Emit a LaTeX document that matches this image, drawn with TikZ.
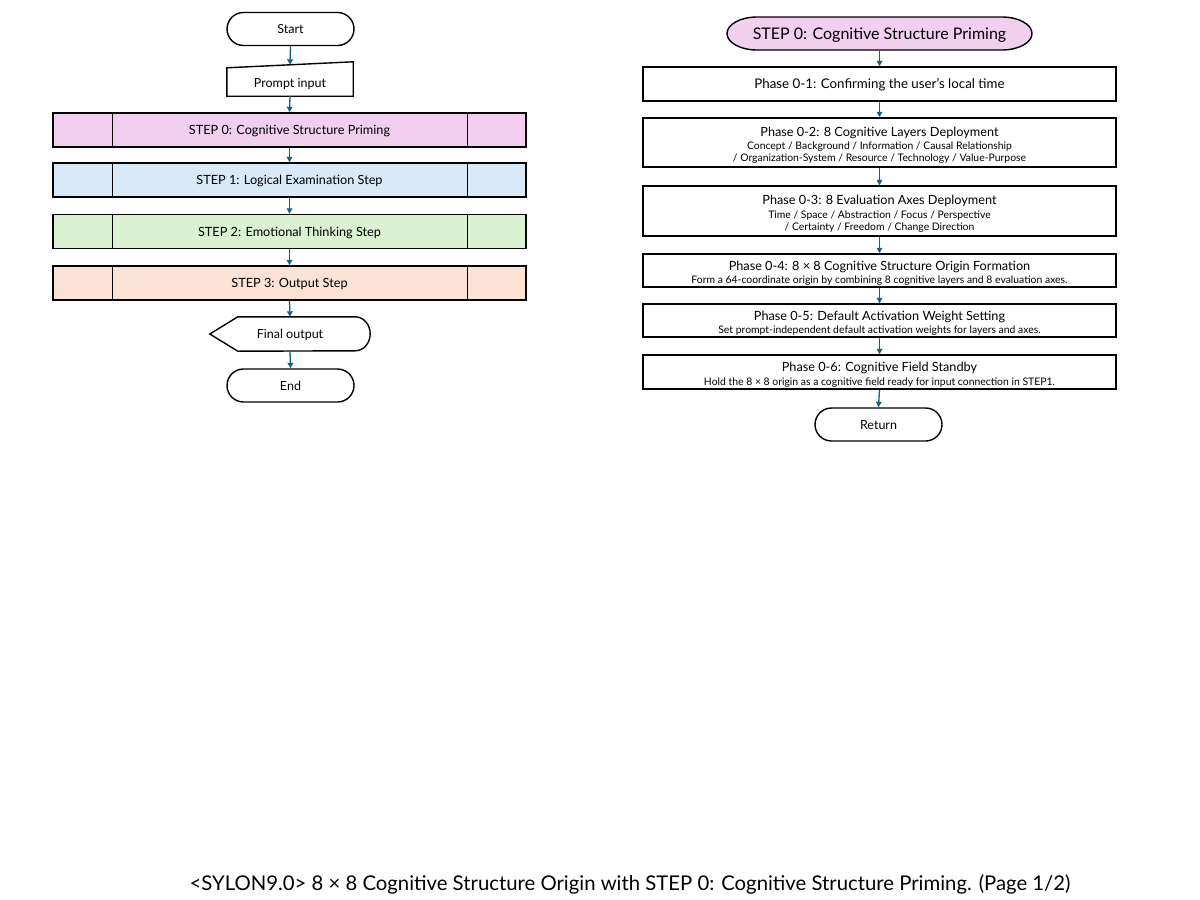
\documentclass[tikz,border=0pt]{standalone}
\usepackage{fontspec}
\setmainfont{Lato}
\usetikzlibrary{arrows.meta,calc}
\definecolor{pinkf}{HTML}{F2CEEF}
\definecolor{bluef}{HTML}{DAE9F8}
\definecolor{greenf}{HTML}{DAF2D0}
\definecolor{peachf}{HTML}{FBE2D5}
\definecolor{arrowc}{HTML}{156082}
\newcommand\phsub{\fontsize{10.4}{12}\selectfont}
\newcommand\phtitle{\fontsize{12.7}{15}\selectfont}
\newcommand\ptext[1]{\raisebox{-3.5pt}[\height][\depth]{\begin{tabular}{@{}c@{}}#1\end{tabular}}}
\begin{document}
\begin{tikzpicture}[x=1pt,y=-1pt,
  lw/.style={line width=1.4pt},
  stepbox/.style={draw=black,lw,minimum width=473pt,minimum height=34pt,inner sep=0pt,
    font=\fontsize{12.7}{14}\selectfont,text height=9.1pt,text depth=0pt},
  phbox/.style={draw=black,lw,minimum width=473pt,inner sep=0pt,font=\phtitle},
  term/.style={draw=black,lw,rounded corners=16.5pt,minimum width=127pt,minimum height=33pt,inner sep=0pt,
    font=\fontsize{12.5}{14}\selectfont,text height=9pt,text depth=0pt},
  plain/.style={minimum height=34pt,inner sep=0pt,font=\fontsize{12.5}{14}\selectfont,text height=9pt,text depth=0pt},
  arr/.style={draw=arrowc,line width=1.3pt,-{Triangle[length=5.5pt,width=5.5pt]}},
]
\useasboundingbox (0,0) rectangle (1200,900);
\fill[white] (0,0) rectangle (1200,900);

% ---------- left column ----------
\node[term] (start) at (290.5,29) {Start};

\node[plain,minimum width=126pt] (pin) at (290,79) {\raisebox{-3.5pt}{Prompt input}};
\draw[lw,line join=miter] ($(pin.north west)+(0,6)$) -- (pin.north east) -- (pin.south east) -- (pin.south west) -- cycle;

\node[stepbox,fill=pinkf] (s0) at (289.5,130) {STEP 0: Cognitive Structure Priming};
\node[stepbox,fill=bluef] (s1) at (289.5,180) {STEP 1: Logical Examination Step};
\node[stepbox,fill=greenf] (s2) at (289.5,231.5) {STEP 2: Emotional Thinking Step};
\node[stepbox,fill=peachf] (s3) at (289.5,283) {STEP 3: Output Step};
\foreach \s in {s0,s1,s2,s3}{
  \draw[lw] ([xshift=60pt]\s.north west) -- ([xshift=60pt]\s.south west);
  \draw[lw] ([xshift=-59pt]\s.north east) -- ([xshift=-59pt]\s.south east);
}

\node[plain,minimum width=160pt] (fo) at (290,334) {Final output};
\draw[lw,line join=miter] (fo.west) -- ([xshift=28pt]fo.north west) -- ([xshift=-15pt]fo.north east)
  arc[start angle=90,end angle=-90,x radius=15pt,y radius=17pt] -- ([xshift=28pt]fo.south west) -- cycle;

\node[term] (end) at (290.5,385.5) {End};

\draw[arr] (start.south) -- ($(pin.north)+(0,3)$);
\draw[arr] (pin.south) -- (s0.north);
\draw[arr] (s0.south) -- (s1.north);
\draw[arr] (s1.south) -- (s2.north);
\draw[arr] (s2.south) -- (s3.north);
\draw[arr] (s3.south) -- (fo.north);
\draw[arr] (fo.south) -- (end.north);

% ---------- right column ----------
\draw[lw,fill=pinkf] (757,17) -- (1002,17)
  arc[start angle=90,end angle=-90,x radius=30pt,y radius=16.5pt] -- (757,50)
  arc[start angle=270,end angle=90,x radius=30pt,y radius=16.5pt] -- cycle;
\node[minimum width=305pt,minimum height=33pt,inner sep=0pt,font=\fontsize{16}{18}\selectfont,
  text height=11.5pt,text depth=0pt] (r0) at (879.5,33.5) {STEP 0: Cognitive Structure Priming};

\node[phbox,minimum height=34pt,font=\fontsize{13.3}{16}\selectfont,text height=9.6pt,text depth=0pt] (p1) at (879.5,84) {Phase 0-1: Confirming the user\char"27 s local time};
\node[phbox,minimum height=49pt] (p2) at (879.5,142.5) {\ptext{Phase 0-2: 8 Cognitive Layers Deployment\\[-1.5pt]
  \phsub Concept / Background / Information / Causal Relationship\\[-3pt]
  \phsub / Organization-System / Resource / Technology / Value-Purpose}};
\node[phbox,minimum height=50pt] (p3) at (879.5,211) {\ptext{Phase 0-3: 8 Evaluation Axes Deployment\\[-1.5pt]
  \phsub Time / Space / Abstraction / Focus / Perspective\\[-3pt]
  \phsub / Certainty / Freedom / Change Direction}};
\node[phbox,minimum height=33pt] (p4) at (879.5,270.5) {\ptext{Phase 0-4: 8 × 8 Cognitive Structure Origin Formation\\[-1.5pt]
  \phsub Form a 64-coordinate origin by combining 8 cognitive layers and 8 evaluation axes.}};
\node[phbox,minimum height=33pt] (p5) at (879.5,320.5) {\ptext{Phase 0-5: Default Activation Weight Setting\\[-1.5pt]
  \phsub Set prompt-independent default activation weights for layers and axes.}};
\node[phbox,minimum height=34pt] (p6) at (879.5,372) {\ptext{Phase 0-6: Cognitive Field Standby\\[-1.5pt]
  \phsub Hold the 8 × 8 origin as a cognitive field ready for input connection in STEP1.}};
\node[term] (ret) at (878.5,424.5) {Return};

\draw[arr] (r0.south) -- (p1.north);
\draw[arr] (p1.south) -- (p2.north);
\draw[arr] (p2.south) -- (p3.north);
\draw[arr] (p3.south) -- (p4.north);
\draw[arr] (p4.south) -- (p5.north);
\draw[arr] (p5.south) -- (p6.north);
\draw[arr] (p6.south) -- (ret.north);

% ---------- caption ----------
\node[inner sep=0pt,font=\fontsize{20.3}{24}\selectfont] (cap) at (630,884) {<SYLON9.0> 8 × 8 Cognitive Structure Origin with STEP 0: Cognitive Structure Priming. (Page 1/2)};
\end{tikzpicture}
\end{document}
